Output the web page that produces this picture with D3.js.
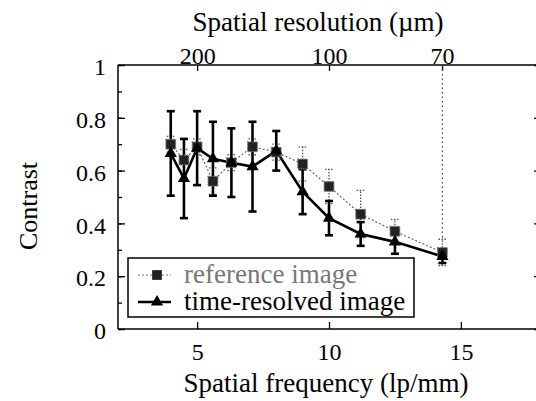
<!DOCTYPE html>
<html>
<head>
<meta charset="utf-8">
<script src="https://cdn.jsdelivr.net/npm/d3@7"></script>
<style>
  body { margin: 0; background: #fff; }
</style>
</head>
<body>
<div id="chart"></div>
<script>
// spatial frequency of each bar group (lp/mm)
const frequencies = [4.0, 4.5, 5.0, 5.6, 6.3, 7.1, 8.0, 9.0, 10.0, 11.2, 12.5, 14.3];
// reference image contrast + error
const refContrast = [0.70, 0.64, 0.69, 0.56, 0.63, 0.69, 0.67, 0.625, 0.54, 0.435, 0.37, 0.29];
const refError = [0.03, 0.04, 0.03, 0.05, 0.03, 0.03, 0.03, 0.065, 0.065, 0.09, 0.045, 0.05];
// time-resolved image contrast + error
const trContrast = [0.665, 0.57, 0.685, 0.645, 0.63, 0.615, 0.675, 0.52, 0.42, 0.36, 0.33, 0.275];
const trError = [0.16, 0.15, 0.14, 0.14, 0.13, 0.17, 0.075, 0.085, 0.065, 0.045, 0.045, 0.025];
// axis ticks
const freqTicks = [5, 10, 15];
const resolutionTicks = [200, 100, 70];
const contrastTicks = [0, 0.2, 0.4, 0.6, 0.8, 1];
const legendLabels = ['reference image', 'time-resolved image'];

const serif = '"Liberation Serif", "DejaVu Serif", serif';
const dimension = { width: 536, height: 401 };
const svg = d3.select('#chart')
  .append('svg')
  .attr('width', dimension.width)
  .attr('height', dimension.height)
  .attr('font-family', serif);

// scales
const x = d3.scaleLinear().domain([2, 18]).range([118, 540]);
const y = d3.scaleLinear().domain([0, 1]).range([329, 65]);

const refData = frequencies.map((f, i) => ({ f, v: refContrast[i], e: refError[i] }));
const trData = frequencies.map((f, i) => ({ f, v: trContrast[i], e: trError[i] }));

// frame lines
const frame = svg.append('g').attr('stroke', '#000').attr('stroke-width', 1.5);
frame.append('line').attr('x1', x(2)).attr('x2', x(18)).attr('y1', y(0)).attr('y2', y(0));
frame.append('line').attr('x1', x(2)).attr('x2', x(18)).attr('y1', y(1)).attr('y2', y(1));
frame.append('line').attr('x1', x(2)).attr('x2', x(2)).attr('y1', y(0)).attr('y2', y(1));
frame.append('line').attr('x1', x(18)).attr('x2', x(18)).attr('y1', y(0)).attr('y2', y(1));

// bottom axis (ticks inward)
const xAxis = svg.append('g')
  .attr('transform', `translate(0,${y(0)})`)
  .call(d3.axisBottom(x).tickValues(freqTicks).tickSize(-7).tickPadding(13).tickFormat(d3.format('d')));
xAxis.select('.domain').remove();
xAxis.selectAll('text').attr('font-size', 24).attr('dy', '0.75em');

// top axis: spatial resolution in um = 1000 / f
const xTop = svg.append('g')
  .attr('transform', `translate(0,${y(1)})`)
  .call(d3.axisTop(x).tickValues(resolutionTicks.map(r => 1000 / r)).tickSize(-6).tickPadding(1)
    .tickFormat((d, i) => resolutionTicks[i]));
xTop.select('.domain').remove();
xTop.selectAll('text').attr('font-size', 24);

// left axis with minor ticks
const yMinor = svg.append('g')
  .attr('transform', `translate(${x(2)},0)`)
  .call(d3.axisRight(y).ticks(10).tickSize(4).tickFormat(''));
yMinor.select('.domain').remove();
const yAxis = svg.append('g')
  .attr('transform', `translate(${x(2)},0)`)
  .call(d3.axisLeft(y).tickValues(contrastTicks).tickSize(-7).tickPadding(12)
    .tickFormat(d => d === 0 || d === 1 ? d3.format('d')(d) : d3.format('.1f')(d)));
yAxis.select('.domain').remove();
yAxis.selectAll('text').attr('font-size', 24).attr('dy', '0.4em');

// right axis (ticks inward)
const yRight = svg.append('g')
  .attr('transform', `translate(${x(18)},0)`)
  .call(d3.axisLeft(y).tickValues(contrastTicks).tickSize(6).tickFormat(''));
yRight.select('.domain').remove();

svg.selectAll('.tick line').attr('stroke', '#000').attr('stroke-width', 1.3);
svg.selectAll('g').filter(function() { return this.hasAttribute('font-family'); })
  .attr('font-family', serif);
svg.selectAll('.tick text').attr('fill', '#000');

// axis titles
svg.append('text')
  .attr('x', 318).attr('y', 31)
  .attr('text-anchor', 'middle')
  .attr('font-size', 27)
  .text('Spatial resolution (\u00b5m)');
svg.append('text')
  .attr('x', 326).attr('y', 392)
  .attr('text-anchor', 'middle')
  .attr('font-size', 27)
  .text('Spatial frequency (lp/mm)');
svg.append('text')
  .attr('transform', 'translate(37,206) rotate(-90)')
  .attr('text-anchor', 'middle')
  .attr('font-size', 26)
  .text('Contrast');

// dotted marker line at 70 um
svg.append('line')
  .attr('x1', x(14.3)).attr('x2', x(14.3))
  .attr('y1', y(1)).attr('y2', y(refContrast[11] + refError[11]))
  .attr('stroke', '#444').attr('stroke-width', 1.2)
  .attr('stroke-dasharray', '1.5,3');

const graph = svg.append('g');

// error bars
const drawErrors = (data, cls, color, width, dash) => {
  const g = graph.append('g').attr('class', cls)
    .attr('stroke', color).attr('stroke-width', width)
    .attr('stroke-dasharray', dash);
  g.selectAll('line.bar').data(data).enter().append('line')
    .attr('x1', d => x(d.f)).attr('x2', d => x(d.f))
    .attr('y1', d => y(d.v - d.e)).attr('y2', d => y(d.v + d.e));
  ['lo', 'hi'].forEach(k => {
    g.selectAll(`line.cap-${k}`).data(data).enter().append('line')
      .attr('x1', d => x(d.f) - 4).attr('x2', d => x(d.f) + 4)
      .attr('y1', d => y(k === 'lo' ? d.v - d.e : d.v + d.e))
      .attr('y2', d => y(k === 'lo' ? d.v - d.e : d.v + d.e))
      .attr('stroke-dasharray', null);
  });
};
drawErrors(refData, 'ref-err', '#555', 1.3, '1.5,1.5');
drawErrors(trData, 'tr-err', '#000', 2.6, null);

// lines
const line = d3.line().x(d => x(d.f)).y(d => y(d.v));
graph.append('path')
  .datum(refData)
  .attr('d', line)
  .attr('fill', 'none')
  .attr('stroke', '#666')
  .attr('stroke-width', 1.2)
  .attr('stroke-dasharray', '2,2');
graph.append('path')
  .datum(trData)
  .attr('d', line)
  .attr('fill', 'none')
  .attr('stroke', '#000')
  .attr('stroke-width', 2.6);

// markers
const square = d3.symbol().type(d3.symbolSquare).size(95);
const triangle = d3.symbol().type(d3.symbolTriangle).size(65);
graph.selectAll('.ref-pt').data(refData).enter().append('path')
  .attr('class', 'ref-pt')
  .attr('transform', d => `translate(${x(d.f)},${y(d.v)})`)
  .attr('d', square)
  .attr('fill', '#222').attr('stroke', '#777').attr('stroke-width', 1.2)
  .attr('stroke-dasharray', '1.5,1');
graph.selectAll('.tr-pt').data(trData).enter().append('path')
  .attr('class', 'tr-pt')
  .attr('transform', d => `translate(${x(d.f)},${y(d.v)})`)
  .attr('d', triangle)
  .attr('fill', '#000');

// legend
const legend = svg.append('g');
legend.append('rect')
  .attr('x', 128).attr('y', 258).attr('width', 286).attr('height', 59)
  .attr('fill', '#fff').attr('stroke', '#000').attr('stroke-width', 1.5);
const rows = [
  { label: legendLabels[0], yPos: 275, color: '#777', dash: '2,2', w: 1.2, sym: square, fill: '#222' },
  { label: legendLabels[1], yPos: 302, color: '#000', dash: null, w: 2.6, sym: triangle, fill: '#000' }
];
rows.forEach(r => {
  legend.append('line')
    .attr('x1', 138).attr('x2', 171).attr('y1', r.yPos).attr('y2', r.yPos)
    .attr('stroke', r.color).attr('stroke-width', r.w).attr('stroke-dasharray', r.dash);
  legend.append('path')
    .attr('transform', `translate(157,${r.yPos})`)
    .attr('d', r.sym)
    .attr('fill', r.fill);
  legend.append('text')
    .attr('x', 184).attr('y', r.yPos + 8)
    .attr('font-size', 27)
    .attr('fill', r.color === '#000' ? '#000' : '#777')
    .text(r.label);
});
</script>
</body>
</html>
